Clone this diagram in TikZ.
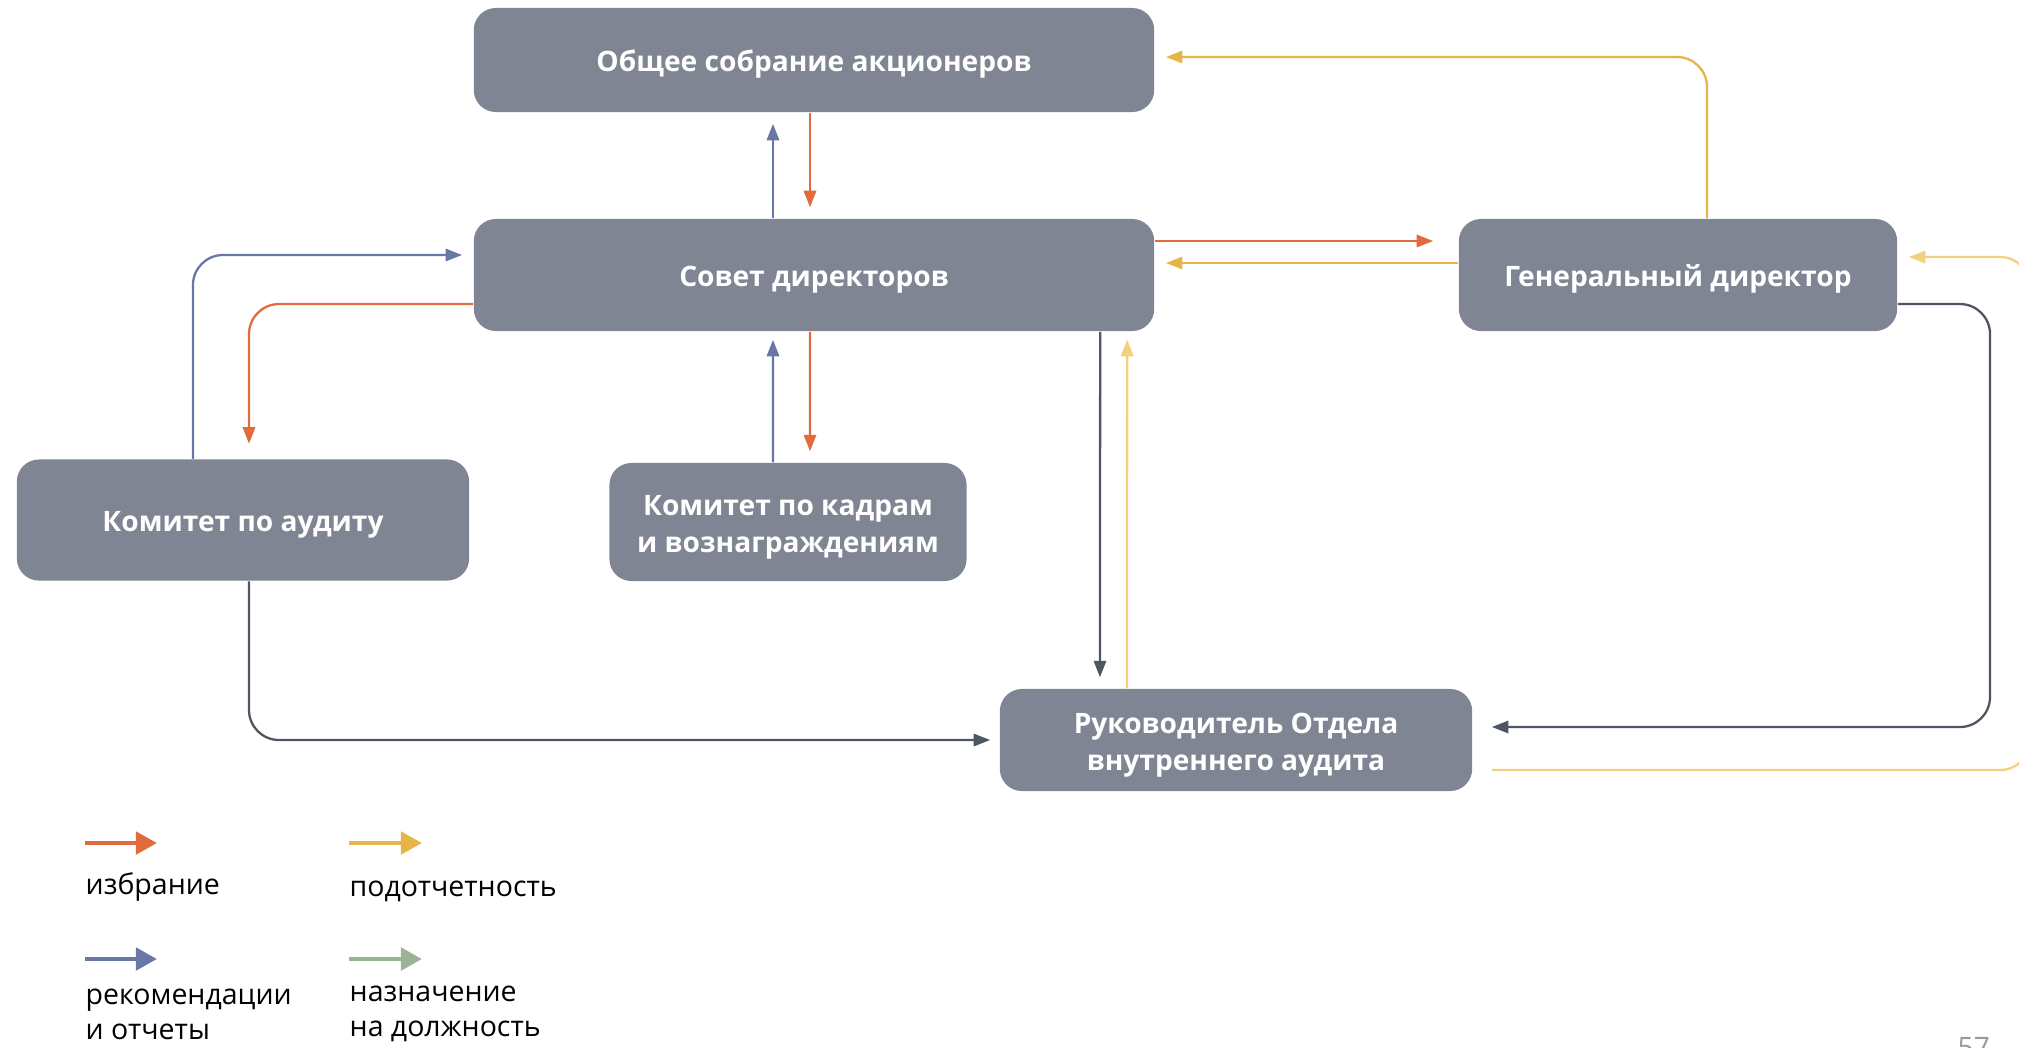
\documentclass[tikz,border=0pt]{standalone}
\usepackage{fontspec}
\setmainfont{Open Sans}
\usetikzlibrary{arrows.meta}
\definecolor{boxgray}{HTML}{7F8592}
\definecolor{tred}{HTML}{E06B3D}
\definecolor{tyellow}{HTML}{E8B445}
\definecolor{tpale}{HTML}{F2D07F}
\definecolor{tblue}{HTML}{6877A6}
\definecolor{tgreen}{HTML}{9AB394}
\definecolor{dark}{HTML}{4E5563}

\begin{document}
\begin{tikzpicture}[x=0.01cm, y=-0.01cm,
  box/.style={rounded corners=0.22cm, fill=boxgray, text=white, align=center,
    inner sep=0pt, font=\fontsize{8}{10.6}\selectfont\bfseries,
    execute at begin node={\rule{0pt}{8.6pt}}},
  twobox/.style={box, execute at begin node={\rule{0pt}{19.2pt}}},
  link/.style={line width=0.65pt, rounded corners=0.3cm,
    -{Triangle[length=4.7pt,width=3.5pt]}, shorten >=0.11cm},
  key/.style={line width=1.3pt, -{Triangle[length=6pt,width=6.3pt]}},
  legend/.style={inner sep=0pt, align=left, font=\fontsize{8.1}{10}\selectfont}]
  \useasboundingbox (0,0) rectangle (2019,1047);

  % Блоки
  \node[box, minimum width=6.8cm, minimum height=1.04cm] (gsm) at (814,60)
    {Общее собрание акционеров};
  \node[box, minimum width=6.8cm, minimum height=1.12cm] (board) at (814,275)
    {Совет директоров};
  \node[box, minimum width=4.38cm, minimum height=1.12cm] (ceo) at (1678,275)
    {Генеральный директор};
  \node[box, minimum width=4.52cm, minimum height=1.21cm] (audit) at (243,520)
    {Комитет по аудиту};
  \node[twobox, minimum width=3.57cm, minimum height=1.18cm] (hr) at (788,522)
    {Комитет по кадрам\\и вознаграждениям};
  \node[twobox, minimum width=4.72cm, minimum height=1.02cm] (ia) at (1236,740)
    {Руководитель Отдела\\внутреннего аудита};

  % Точки поворота справа
  \coordinate (rail) at (1990,0);
  \coordinate (outrail) at (2030,0);
  \coordinate (ceoout) at ([yshift=-0.29cm]ceo.east);
  \coordinate (iain) at ([yshift=0.13cm]ia.east);
  \coordinate (iaout) at ([xshift=0.19cm,yshift=-0.3cm]ia.east);
  \coordinate (ceoin) at ([yshift=0.18cm]ceo.east);

  % Собрание и совет
  \draw[link, tblue] ([xshift=-0.41cm]board.north) -- ([xshift=-0.41cm]gsm.south);
  \draw[link, tred] ([xshift=-0.04cm]gsm.south) -- ([xshift=-0.04cm]board.north);

  % Совет и генеральный директор
  \draw[link, tred, shorten >=0.25cm] ([yshift=0.34cm]board.east) -- ([yshift=0.34cm]ceo.west);
  \draw[link, tyellow] ([yshift=0.12cm]ceo.west) -- ([yshift=0.12cm]board.east);
  \draw[link, tyellow] ([xshift=0.29cm]ceo.north) |- ([yshift=0.03cm]gsm.east);

  % Комитеты
  \draw[link, tblue] ([xshift=-0.5cm]audit.north) |- ([yshift=0.2cm]board.west);
  \draw[link, tred, shorten >=0.15cm] ([yshift=-0.29cm]board.west) -| ([xshift=0.06cm]audit.north);
  \draw[link, tblue, shorten >=0.08cm] ([xshift=-0.15cm]hr.north) -- ([xshift=-0.41cm]board.south);
  \draw[link, tred] ([xshift=-0.04cm]board.south) -- ([xshift=0.22cm]hr.north);

  % Внутренний аудит
  \draw[link, dark] ([xshift=2.86cm]board.south) -- ([xshift=-1.36cm]ia.north);
  \draw[link, tpale, shorten >=0.08cm] ([xshift=-1.09cm]ia.north) -- ([xshift=3.13cm]board.south);
  \draw[link, dark, shorten >=0.09cm] ([xshift=0.06cm]audit.south) |- (ia.west);
  \draw[link, dark, shorten >=0.19cm] (ceoout) -- (ceoout -| rail) |- (iain);
  \draw[link, tpale] (iaout) -- (iaout -| outrail) |- (ceoin);

  % Легенда
  \coordinate (kelect) at (85,843);
  \coordinate (kreport) at (349,843);
  \coordinate (kadvise) at (85,959);
  \coordinate (kappoint) at (349,959);
  \draw[key, tred] (kelect) -- ++(72,0);
  \draw[key, tyellow] (kreport) -- ++(73,0);
  \draw[key, tblue] (kadvise) -- ++(72,0);
  \draw[key, tgreen] (kappoint) -- ++(73,0);
  \node[legend, anchor=west] (lelect) at (85,887) {избрание};
  \node[legend, anchor=west] (lreport) at (349,891) {подотчетность};
  \node[legend, anchor=west] (ladvise) at (85,1014) {рекомендации\\и отчеты};
  \node[legend, anchor=west] (lappoint) at (349,1014) {назначение\\на должность};

  % Номер страницы
  \node[anchor=north west, inner sep=0pt, text=gray!80,
    font=\fontsize{8}{8}\selectfont] (pgno) at (1957,1037) {57};
\end{tikzpicture}
\end{document}
